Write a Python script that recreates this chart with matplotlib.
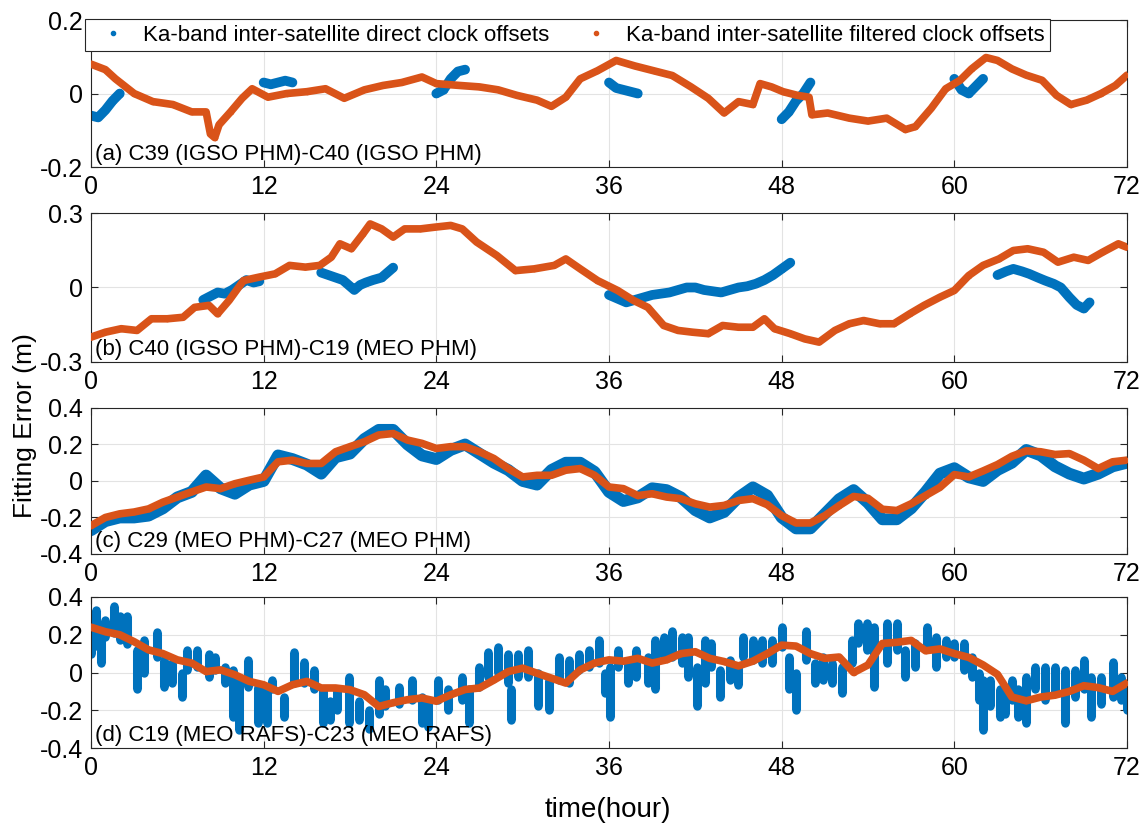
#!/usr/bin/env python3
"""Ka-band inter-satellite clock offsets: direct vs filtered, four satellite pairs over 72 h."""
import numpy as np
import matplotlib.pyplot as plt
from matplotlib.lines import Line2D

plt.rcParams["font.family"] = ["Liberation Sans", "DejaVu Sans"]

BLUE = "#0072BD"
ORANGE = "#D95319"

LABELS = ["(a) C39 (IGSO PHM)-C40 (IGSO PHM)",
          "(b) C40 (IGSO PHM)-C19 (MEO PHM)",
          "(c) C29 (MEO PHM)-C27 (MEO PHM)",
          "(d) C19 (MEO RAFS)-C23 (MEO RAFS)"]
YLIMS = [0.2, 0.3, 0.4, 0.4]
YTICKS = [[-0.2, 0, 0.2], [-0.3, 0, 0.3],
          [-0.4, -0.2, 0, 0.2, 0.4], [-0.4, -0.2, 0, 0.2, 0.4]]
XTICKS = [0, 12, 24, 36, 48, 60, 72]

# (a) C39-C40  (hours, metres)
A_OR_T = [0, 1, 1.7, 3, 4.3, 5.7, 7, 8, 8.3, 8.6, 8.9, 9.7, 10.5, 11.2, 12.3, 13.6, 15,
          16.3, 17.6, 19, 20.3, 21.6, 23, 24, 25.6, 27, 28.3, 29.6, 31, 32, 33, 34,
          35.2, 36.5, 37.8, 39.1, 40.4, 41.7, 42.9, 44, 45, 46, 46.5, 47.3, 48.1, 49.1,
          49.9, 50.1, 51.2, 52.7, 54, 55.3, 56.6, 57.3, 58.4, 59.4, 60.4, 61.2, 62.2,
          63, 64, 65, 66.1, 67.1, 68.1, 69.2, 70.2, 71.2, 72]
A_OR_V = [0.08, 0.065, 0.04, 0.0, -0.022, -0.03, -0.05, -0.05, -0.11, -0.12, -0.085,
          -0.05, -0.013, 0.013, -0.01, 0.0, 0.005, 0.013, -0.013, 0.01, 0.022, 0.03,
          0.045, 0.027, 0.022, 0.018, 0.01, -0.005, -0.018, -0.035, -0.01, 0.04, 0.062,
          0.09, 0.075, 0.062, 0.049, 0.018, -0.013, -0.053, -0.022, -0.03, 0.027, 0.018,
          0.005, -0.005, -0.01, -0.058, -0.053, -0.067, -0.075, -0.067, -0.098, -0.09,
          -0.04, 0.013, 0.036, 0.067, 0.098, 0.09, 0.067, 0.05, 0.036, -0.005, -0.03,
          -0.018, 0.0, 0.022, 0.05]
A_BL_T = [0, 0.5, 1, 1.5, 2, np.nan, 12, 12.5, 13, 13.5, 14, np.nan,
          24, 24.5, 25, 25.5, 26, np.nan, 36, 36.5, 37, 37.5, 38, np.nan,
          48, 48.5, 49, 49.5, 50, np.nan, 60, 60.5, 61, 61.5, 62]
A_BL_V = [-0.06, -0.065, -0.045, -0.02, 0.0, np.nan, 0.03, 0.025, 0.03, 0.035, 0.03, np.nan,
          0.0, 0.01, 0.04, 0.06, 0.065, np.nan, 0.03, 0.015, 0.01, 0.005, 0.0, np.nan,
          -0.07, -0.05, -0.02, 0.0, 0.03, np.nan, 0.04, 0.01, 0.0, 0.02, 0.04]

# (b) C40-C19
B_OR_T = [0, 1, 2.1, 3.2, 4.2, 5.3, 6.4, 7.2, 8.2, 8.8, 9.6, 10.6, 11.7, 12.8, 13.8,
          14.9, 15.9, 16.7, 17.3, 18.1, 18.9, 19.4, 20.2, 21, 21.8, 22.9, 23.9, 25,
          25.8, 26.8, 28.2, 29.5, 30.8, 32.2, 33, 34, 35.2, 36.6, 37.7, 38.7, 39.8,
          40.8, 41.8, 42.9, 43.9, 45, 46, 46.8, 47.5, 48.6, 49.6, 50.6, 51.7, 52.7,
          53.7, 54.8, 55.8, 56.9, 57.9, 59, 60, 61, 62, 63.1, 64.1, 65.1, 66.2, 67.2,
          68.3, 69.3, 70.3, 71.4, 72]
B_OR_V = [-0.2, -0.18, -0.166, -0.173, -0.126, -0.126, -0.12, -0.08, -0.072, -0.106,
          -0.052, 0.028, 0.042, 0.055, 0.089, 0.082, 0.089, 0.122, 0.176, 0.156, 0.216,
          0.256, 0.236, 0.203, 0.236, 0.236, 0.243, 0.25, 0.236, 0.183, 0.129, 0.068,
          0.075, 0.089, 0.115, 0.075, 0.028, -0.012, -0.052, -0.08, -0.153, -0.173,
          -0.18, -0.186, -0.153, -0.16, -0.16, -0.126, -0.166, -0.186, -0.207, -0.22,
          -0.173, -0.146, -0.133, -0.146, -0.146, -0.106, -0.072, -0.039, -0.012, 0.048,
          0.089, 0.115, 0.149, 0.156, 0.142, 0.102, 0.122, 0.109, 0.142, 0.176, 0.162]
B_BL_T = [7.8, 8.3, 8.8, 9.3, 9.8, 10.3, 10.8, 11.3, 11.7, np.nan,
          16.0, 16.5, 17.0, 17.5, 18.0, 18.3, 18.7, 19.1, 19.6, 20.2, 20.6, 21.0, np.nan,
          36.0, 36.6, 37.2, 37.8, 38.4, 39.0, 39.6, 40.2, 40.8, 41.4, 42.0, 42.6, 43.2,
          43.8, 44.4, 45.0, 45.6, 46.2, 46.8, 47.4, 48.0, 48.6, np.nan,
          63.0, 63.6, 64.1, 64.7, 65.2, 65.8, 66.3, 66.9, 67.4, 68.0, 68.5, 69.0, 69.4]
B_BL_V = [-0.05, -0.035, -0.02, -0.025, -0.01, 0.01, 0.03, 0.02, 0.025, np.nan,
          0.06, 0.05, 0.04, 0.03, 0.005, -0.01, 0.01, 0.02, 0.03, 0.04, 0.06, 0.08, np.nan,
          -0.03, -0.045, -0.06, -0.05, -0.04, -0.03, -0.025, -0.02, -0.01, 0.0, 0.0,
          -0.01, -0.015, -0.02, -0.01, 0.0, 0.005, 0.015, 0.03, 0.05, 0.075, 0.1, np.nan,
          0.05, 0.065, 0.075, 0.065, 0.055, 0.04, 0.028, 0.015, 0.0, -0.04, -0.07,
          -0.085, -0.06]

# (c) C29-C27, hourly
C_T = list(range(73))
C_OR_V = [-0.245, -0.2, -0.18, -0.17, -0.153, -0.116, -0.088, -0.06, -0.033, -0.042,
          -0.015, 0.004, 0.022, 0.105, 0.114, 0.096, 0.096, 0.16, 0.188, 0.215, 0.252,
          0.26, 0.224, 0.206, 0.178, 0.188, 0.188, 0.16, 0.123, 0.068, 0.022, 0.031,
          0.031, 0.059, 0.068, 0.031, -0.033, -0.042, -0.08, -0.07, -0.088, -0.097,
          -0.125, -0.143, -0.134, -0.107, -0.097, -0.13, -0.19, -0.23, -0.23, -0.19,
          -0.135, -0.085, -0.095, -0.155, -0.162, -0.125, -0.08, -0.035, 0.035, 0.022,
          0.055, 0.09, 0.135, 0.165, 0.16, 0.145, 0.15, 0.114, 0.068, 0.105, 0.114]
C_BL_V = [-0.27, -0.22, -0.2, -0.2, -0.19, -0.15, -0.09, -0.06, 0.03, -0.04, -0.07,
          -0.02, 0.0, 0.14, 0.12, 0.09, 0.04, 0.13, 0.15, 0.23, 0.28, 0.28, 0.2, 0.14,
          0.12, 0.17, 0.2, 0.15, 0.1, 0.06, 0.0, -0.02, 0.06, 0.1, 0.1, 0.05, -0.06,
          -0.11, -0.09, -0.04, -0.05, -0.09, -0.16, -0.2, -0.17, -0.09, -0.035, -0.08,
          -0.2, -0.26, -0.26, -0.18, -0.1, -0.05, -0.12, -0.21, -0.21, -0.15, -0.06,
          0.04, 0.07, 0.02, 0.0, 0.06, 0.1, 0.17, 0.14, 0.08, 0.04, 0.013, 0.04, 0.08, 0.1]

# (d) C19-C23: filtered hourly, direct as spike extents (high / low)
D_T = list(range(73))
D_OR_V = [0.24, 0.216, 0.2, 0.163, 0.12, 0.1, 0.067, 0.05, 0.005, 0.014, -0.012,
          -0.047, -0.065, -0.1, -0.065, -0.047, -0.082, -0.082, -0.091, -0.118, -0.18,
          -0.16, -0.144, -0.135, -0.152, -0.118, -0.09, -0.082, -0.04, 0.005, 0.023,
          -0.004, -0.03, -0.056, 0.014, 0.05, 0.067, 0.06, 0.075, 0.05, 0.067, 0.1, 0.11,
          0.075, 0.058, 0.035, 0.06, 0.1, 0.145, 0.14, 0.1, 0.075, 0.082, 0.0, 0.04,
          0.154, 0.16, 0.17, 0.115, 0.125, 0.1, 0.08, 0.04, -0.01, -0.13, -0.15, -0.13,
          -0.12, -0.1, -0.07, -0.08, -0.1, -0.056]
D_BL_T = [0.0, 0.35, 0.7, 1.0, 1.6, 2.0, 2.5, 3.2, 3.7, 4.6, 5.1, 5.6, 6.3, 6.7, 7.4,
          8.2, 8.6, 9.3, 9.9, 10.3, 10.9, 11.6, 12.2, 12.6, 13.4, 14.1, 14.8, 15.5, 16.1,
          16.6, 17.1, 17.9, 18.6, 19.3, 20.0, 20.4, 21.4, 22.3, 23.0, 23.4, 24.1, 24.8,
          25.8, 26.3, 27.0, 27.6, 28.3, 29.0, 29.2, 29.7, 30.4, 31.1, 31.8, 32.5, 33.2,
          33.9, 34.6, 35.3, 35.7, 36.1, 36.6, 37.3, 37.9, 38.7, 39.2, 39.8, 40.4, 41.1,
          41.5, 42.1, 42.7, 43.1, 43.7, 44.4, 45.0, 45.3, 46.0, 46.6, 47.3, 48.0, 48.5,
          49.0, 49.7, 50.3, 50.9, 51.5, 52.2, 52.9, 53.3, 53.9, 54.4, 55.3, 56.0, 56.6,
          57.3, 58.1, 58.7, 59.4, 60.0, 60.7, 61.2, 61.7, 62.0, 62.5, 63.2, 63.5, 64.0,
          64.4, 65.0, 65.6, 66.3, 67.0, 67.7, 68.4, 69.0, 69.5, 70.2, 71.0, 71.6, 72.0]
D_BL_HI = [0.31, 0.33, 0.22, 0.28, 0.35, 0.30, 0.30, 0.12, 0.17, 0.215, 0.065, 0.048,
           -0.005, 0.12, 0.12, 0.10, 0.083, 0.03, 0.012, -0.03, 0.065, -0.076, -0.076,
           -0.04, -0.13, 0.11, 0.057, 0.012, -0.09, -0.15, -0.09, -0.023, -0.15, -0.2,
           -0.04, -0.09, -0.076, -0.04, -0.13, -0.15, -0.04, -0.09, -0.023, -0.09, 0.03,
           0.11, 0.136, 0.10, -0.09, 0.10, 0.12, -0.005, -0.04, 0.083, 0.065, 0.10, 0.12,
           0.17, -0.005, 0.03, 0.12, 0.048, 0.12, 0.083, 0.17, 0.19, 0.22, 0.19, 0.19,
           0.03, 0.17, 0.154, 0.012, 0.065, 0.03, 0.19, 0.17, 0.17, 0.17, 0.24, 0.083,
           -0.005, 0.22, 0.048, 0.083, 0.048, 0.03, 0.17, 0.26, 0.26, 0.24, 0.26, 0.26,
           0.12, 0.154, 0.24, 0.19, 0.17, 0.154, 0.154, 0.083, -0.005, -0.04, -0.04,
           -0.09, -0.076, -0.04, -0.09, -0.023, 0.03, 0.03, 0.03, 0.012, 0.012, 0.065,
           -0.023, -0.023, 0.057, -0.023, -0.076]
D_BL_LO = [0.10, 0.14, 0.05, 0.19, 0.21, 0.17, 0.15, -0.09, -0.005, 0.08, -0.076,
           -0.058, -0.13, 0.012, 0.03, -0.023, 0.012, -0.058, -0.235, -0.305, -0.076,
           -0.27, -0.27, -0.09, -0.235, -0.058, -0.058, -0.09, -0.27, -0.25, -0.2, -0.27,
           -0.25, -0.3, -0.22, -0.18, -0.165, -0.147, -0.27, -0.29, -0.147, -0.2, -0.147,
           -0.27, -0.076, -0.023, -0.005, -0.058, -0.25, -0.023, -0.023, -0.18, -0.2,
           -0.04, -0.058, 0.012, 0.03, 0.048, -0.11, -0.235, 0.03, -0.058, -0.023, -0.058,
           -0.09, 0.083, 0.083, 0.048, -0.023, -0.18, -0.058, 0.03, -0.13, -0.04, -0.067,
           0.083, 0.065, 0.048, 0.048, 0.136, -0.09, -0.2, 0.065, -0.058, -0.04, -0.058,
           -0.11, 0.048, 0.154, 0.12, -0.076, 0.048, 0.12, -0.023, 0.03, 0.136, 0.03,
           0.083, 0.083, 0.012, -0.023, -0.147, -0.305, -0.18, -0.235, -0.22, -0.147,
           -0.235, -0.27, -0.09, -0.147, -0.11, -0.27, -0.13, -0.09, -0.235, -0.165,
           -0.13, -0.147, -0.2]

# axes boxes in figure fractions (left, bottom, width, height)
BOXES = [(0.0796, 0.7973, 0.9064, 0.1784),
         (0.0796, 0.5607, 0.9064, 0.1808),
         (0.0796, 0.3277, 0.9064, 0.1772),
         (0.0796, 0.0922, 0.9064, 0.1833)]


def band(ax, t, v, color, lw, ms, z):
    ax.plot(t, v, "-", color=color, lw=lw, solid_capstyle="round",
            solid_joinstyle="round", zorder=z)
    ax.plot(t, v, "o", color=color, ms=ms, mew=0, zorder=z)


def style(ax, i):
    lim = YLIMS[i]
    ax.set_xlim(0, 72)
    ax.set_ylim(-lim, lim)
    ax.set_xticks(XTICKS)
    ax.set_yticks(YTICKS[i])
    ax.set_yticklabels([f"{v:g}" for v in YTICKS[i]])
    ax.tick_params(direction="in", top=True, right=True, length=5, width=0.8,
                   labelsize=18, pad=6, color="#262626")
    ax.grid(True, color="#e3e3e3", lw=0.8)
    ax.set_axisbelow(True)
    for s in ax.spines.values():
        s.set_color("#262626")
        s.set_linewidth(0.8)
    ax.text(0.004, 0.015, LABELS[i], transform=ax.transAxes, ha="left",
            va="bottom", fontsize=16, zorder=10)


def main():
    fig = plt.figure(figsize=(11.43, 8.24), dpi=100)
    axes = [fig.add_axes(b) for b in BOXES]

    # (a)
    band(axes[0], A_BL_T, A_BL_V, BLUE, 7, 5, 2)
    band(axes[0], A_OR_T, A_OR_V, ORANGE, 5.5, 4, 3)
    # (b)
    band(axes[1], B_BL_T, B_BL_V, BLUE, 7, 5, 2)
    band(axes[1], B_OR_T, B_OR_V, ORANGE, 5.5, 4, 3)
    # (c)
    band(axes[2], C_T, C_BL_V, BLUE, 8.5, 5, 2)
    band(axes[2], C_T, C_OR_V, ORANGE, 5.5, 4, 3)
    # (d) direct offsets jump around, drawn as vertical runs
    ax = axes[3]
    ax.vlines(D_BL_T, D_BL_LO, D_BL_HI, color=BLUE, lw=6.5, zorder=2)
    ax.plot(D_BL_T, D_BL_LO, "o", color=BLUE, ms=6, mew=0, zorder=2)
    ax.plot(D_BL_T, D_BL_HI, "o", color=BLUE, ms=6, mew=0, zorder=2)
    band(ax, D_T, D_OR_V, ORANGE, 5.5, 4, 3)

    for i, a in enumerate(axes):
        style(a, i)

    handles = [Line2D([], [], ls="none", marker=".", ms=6, color=BLUE),
               Line2D([], [], ls="none", marker=".", ms=6, color=ORANGE)]
    leg = fig.legend(handles,
                     ["Ka-band inter-satellite direct clock offsets",
                      "Ka-band inter-satellite filtered clock offsets"],
                     loc="upper left", bbox_to_anchor=(85 / 1143, 1 - 19 / 824),
                     ncol=2, fontsize=16, frameon=True, fancybox=False,
                     framealpha=1, edgecolor="#262626", borderpad=0.25,
                     handlelength=2.0, handletextpad=0.35, columnspacing=1.1,
                     borderaxespad=0)
    leg.get_frame().set_linewidth(0.8)
    leg.set_zorder(20)

    fig.text(0.022, 0.484, "Fitting Error (m)", rotation=90, ha="center",
             va="center", fontsize=19)
    fig.text(0.532, 0.017, "time(hour)", ha="center", va="center", fontsize=20)

    fig.savefig("out.png", dpi=100)


if __name__ == "__main__":
    main()
